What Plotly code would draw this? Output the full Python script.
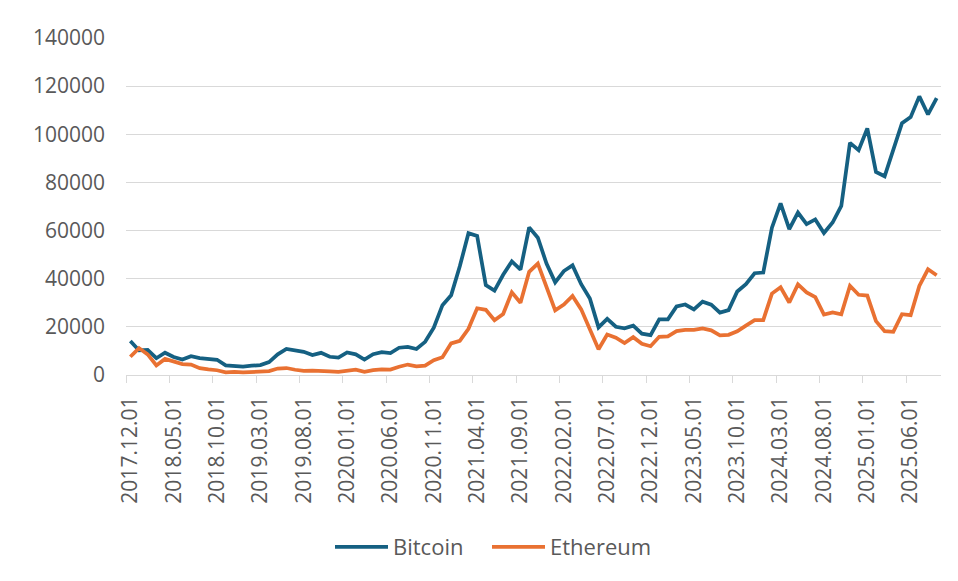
import plotly.graph_objects as go

# Month categories (first day of each month), Dec 2017 .. Sep 2025
months = [f"{2017 + (11 + i) // 12}.{(11 + i) % 12 + 1:02d}.01" for i in range(94)]

# Monthly values
bitcoin = [
    14100, 10200, 10400, 6970, 9240, 7490, 6400, 7780, 7040, 6630,
    6320, 4020, 3740, 3460, 3850, 4110, 5350, 8570, 10820, 10090,
    9630, 8290, 9200, 7570, 7190, 9350, 8600, 6440, 8660, 9460,
    9140, 11320, 11680, 10780, 13780, 19630, 29000, 33110, 45140, 58920,
    57750, 37330, 35040, 41630, 47170, 43790, 61320, 57010, 46310, 38480,
    43190, 45540, 37710, 31790, 19790, 23340, 20050, 19430, 20500, 17170,
    16550, 23140, 23150, 28480, 29270, 27220, 30480, 29230, 25930, 26970,
    34670, 37710, 42270, 42580, 61200, 71330, 60640, 67490, 62680, 64620,
    58970, 63330, 70220, 96450, 93430, 102410, 84370, 82550, 94210, 104640,
    107140, 115760, 108240, 115000,
]

ethereum = [
    7560, 11180, 8550, 3970, 6690, 5770, 4550, 4340, 2820, 2320,
    1980, 1140, 1330, 1070, 1360, 1410, 1620, 2680, 2900, 2180,
    1720, 1800, 1820, 1520, 1300, 1800, 2180, 1330, 2060, 2310,
    2250, 3450, 4340, 3600, 3860, 6120, 7370, 13140, 14170, 19180,
    27730, 27070, 22750, 25360, 34330, 30010, 42880, 46310, 36830, 26880,
    29220, 32820, 27270, 19420, 10670, 16790, 15530, 13280, 15720, 12960,
    11960, 15850, 16060, 18220, 18700, 18750, 19340, 18570, 16460, 16710,
    18150, 20520, 22820, 22830, 33830, 36470, 30140, 37620, 34330, 32320,
    25130, 26030, 25180, 37050, 33320, 33000, 22370, 18220, 17940, 25280,
    24860, 36970, 43910, 41450,
]

label_step = 5
y_max = 140000
y_step = 20000

idx = list(range(len(months)))
tick_idx = idx[::label_step]
tick_labels = [months[i] for i in tick_idx]
boundary_ticks = [i - 0.5 for i in tick_idx]

grid = "#D9D9D9"
text_col = "#595959"

W, H = 950, 573

fig = go.Figure()
fig.add_trace(go.Scatter(x=idx, y=bitcoin, mode="lines", name="Bitcoin",
                         legendwidth=89,
                         line=dict(color="#156082", width=3.75)))
fig.add_trace(go.Scatter(x=idx, y=ethereum, mode="lines", name="Ethereum",
                         legendwidth=115,
                         line=dict(color="#E97132", width=3.75)))

fig.update_layout(
    width=W, height=H,
    margin=dict(l=118, r=17, t=30, b=206, autoexpand=False),
    paper_bgcolor="white", plot_bgcolor="white",
    font=dict(family="Open Sans", size=21, color=text_col),
    showlegend=True,
    legend=dict(orientation="h", xref="container", yref="container",
                x=322 / W, xanchor="left", y=1 - 539 / H, yanchor="middle",
                itemwidth=53, entrywidthmode="pixels",
                font=dict(size=22, color=text_col)),
)

fig.update_xaxes(
    range=[-0.5, len(months) - 0.5],
    tickmode="array", tickvals=tick_idx, ticktext=tick_labels,
    tickangle=-90, ticks="", showgrid=False, zeroline=False,
    showline=True, linecolor=grid, linewidth=1.3,
    ticklabelstandoff=12,
    minor=dict(tickmode="array", tickvals=boundary_ticks, ticks="outside",
               ticklen=7, tickcolor=grid, tickwidth=1.3, showgrid=False),
)
fig.update_yaxes(
    range=[0, y_max], dtick=y_step, tick0=0, tickformat="d",
    showgrid=True, gridcolor=grid, gridwidth=1.3,
    zeroline=False, showline=False, ticks="",
    ticklabelstandoff=20,
)

fig.write_html("out.html")
